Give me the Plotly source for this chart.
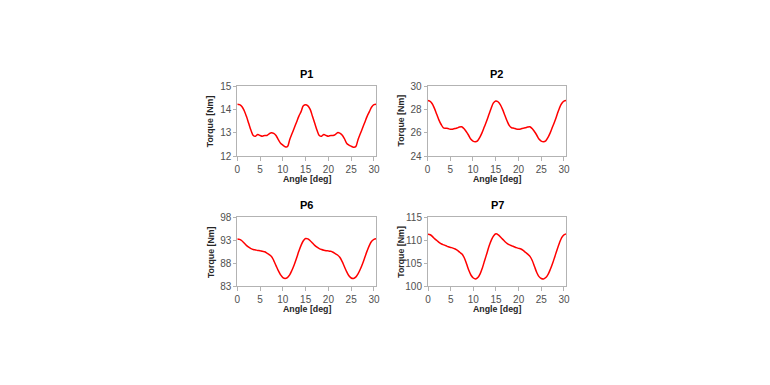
import plotly.graph_objects as go

angle = [i * 0.5 for i in range(62)]

p1 = [14.22, 14.2, 14.12, 13.95, 13.7, 13.4, 13.1, 12.88, 12.85, 12.92, 12.88, 12.85, 12.88, 12.88,
      12.95, 13.0, 12.97, 12.88, 12.7, 12.55, 12.47, 12.4, 12.4, 12.7, 12.95, 13.2, 13.45, 13.7, 13.9,
      14.15, 14.2, 14.15, 14.0, 13.7, 13.4, 13.1, 12.88, 12.85, 12.92, 12.88, 12.85, 12.88, 12.88,
      12.92, 13.0, 12.98, 12.9, 12.75, 12.55, 12.47, 12.42, 12.38, 12.4, 12.7, 12.95, 13.2, 13.45,
      13.7, 13.9, 14.1, 14.2, 14.22]
p2 = [28.75, 28.7, 28.5, 28.1, 27.6, 27.1, 26.7, 26.42, 26.38, 26.35, 26.3, 26.3, 26.35, 26.4,
      26.48, 26.5, 26.35, 26.1, 25.8, 25.45, 25.28, 25.22, 25.3, 25.6, 26.0, 26.5, 27.0, 27.55, 28.1,
      28.55, 28.72, 28.65, 28.4, 28.0, 27.5, 27.0, 26.6, 26.42, 26.38, 26.32, 26.3, 26.32, 26.38,
      26.42, 26.48, 26.5, 26.35, 26.1, 25.8, 25.45, 25.28, 25.22, 25.3, 25.6, 26.0, 26.5, 27.0,
      27.55, 28.1, 28.5, 28.7, 28.75]
p6 = [93.3, 93.2, 92.9, 92.4, 91.9, 91.5, 91.2, 91.0, 90.9, 90.8, 90.75, 90.6, 90.5, 90.2, 89.9,
      89.5, 88.6, 87.5, 86.4, 85.5, 84.9, 84.7, 84.9, 85.5, 86.5, 87.7, 89.1, 90.6, 91.9, 92.9, 93.4,
      93.3, 92.9, 92.4, 91.9, 91.5, 91.2, 91.0, 90.85, 90.75, 90.7, 90.6, 90.4, 90.1, 89.8, 89.3,
      88.4, 87.3, 86.2, 85.3, 84.8, 84.7, 85.0, 85.7, 86.7, 87.9, 89.3, 90.7, 91.9, 92.8, 93.2, 93.35]
p7 = [111.3, 111.2, 110.8, 110.3, 109.9, 109.5, 109.2, 109.0, 108.8, 108.6, 108.45, 108.3, 108.1,
      107.8, 107.4, 107.0, 106.2, 104.9, 103.5, 102.4, 101.8, 101.6, 101.9, 102.7, 104.0, 105.6,
      107.2, 108.8, 110.1, 111.0, 111.4, 111.2, 110.7, 110.2, 109.7, 109.3, 109.0, 108.8, 108.6,
      108.4, 108.25, 108.1, 107.8, 107.4, 107.0, 106.5, 105.6, 104.3, 103.0, 102.1, 101.7, 101.6,
      101.9, 102.6, 103.7, 105.0, 106.5, 108.0, 109.4, 110.6, 111.2, 111.4]

titles = ["P1", "P2", "P6", "P7"]
series = [p1, p2, p6, p7]
y_ranges = [[12, 15], [24, 30], [83, 98], [100, 115]]
y_ticks = [[12, 13, 14, 15], [24, 26, 28, 30], [83, 88, 93, 98], [100, 105, 110, 115]]
x_ticks = [0, 5, 10, 15, 20, 25, 30]

W, H = 770, 385
OFF = 8  # page offset of the figure inside the browser window
# plot-area pixel boxes in window pixels (left, right, top, bottom)
boxes = [(237.3, 376, 86, 156), (427.5, 566, 86, 156),
         (237.3, 376, 217.3, 286.3), (428, 566, 217.3, 286.3)]


def px(xp):
    return (xp - OFF) / W


def py(yp):
    return 1 - (yp - OFF) / H


fig = go.Figure()
font_fam = "Liberation Sans, Arial, sans-serif"
for i, (t, ys) in enumerate(zip(titles, series)):
    n = "" if i == 0 else str(i + 1)
    l, r, tp, bt = boxes[i]
    fig.add_trace(go.Scatter(x=angle, y=ys, mode="lines", line=dict(color="#FF0000", width=1.5, shape="spline"),
                             xaxis="x" + n, yaxis="y" + n, showlegend=False))
    ax = dict(domain=[px(l), px(r)], anchor="y" + n, range=[0, 30.45], tickvals=x_ticks, automargin=False,
              showgrid=False, zeroline=False, showline=True, linecolor="#B3B3B3", linewidth=1, mirror=True,
              ticks="outside", ticklen=4, tickcolor="#B3B3B3",
              tickfont=dict(family=font_fam, size=10, color="#505050"))
    ay = dict(domain=[py(bt), py(tp)], anchor="x" + n, range=y_ranges[i], tickvals=y_ticks[i],
              automargin=False,
              showgrid=False, zeroline=False, showline=True, linecolor="#B3B3B3", linewidth=1, mirror=True,
              ticks="outside", ticklen=3, tickcolor="#B3B3B3",
              tickfont=dict(family=font_fam, size=10, color="#505050"))
    fig.layout["xaxis" + n] = ax
    fig.layout["yaxis" + n] = ay
    cx = (l + r) / 2
    fig.add_annotation(x=px(cx), y=py(tp - 12), xref="paper", yref="paper", text="<b>" + t + "</b>",
                       showarrow=False, font=dict(family=font_fam, size=11, color="black"),
                       xanchor="center", yanchor="middle")
    fig.add_annotation(x=px(cx), y=py(bt + 22.5), xref="paper", yref="paper", text="<b>Angle [deg]</b>",
                       showarrow=False, font=dict(family=font_fam, size=8.8, color="#262626"),
                       xanchor="center", yanchor="middle")
    fig.add_annotation(x=px(l - 27), y=py((tp + bt) / 2), xref="paper", yref="paper",
                       text="<b>Torque [Nm]</b>", textangle=-90,
                       showarrow=False, font=dict(family=font_fam, size=8.8, color="#262626"),
                       xanchor="center", yanchor="middle")

fig.update_layout(width=W, height=H, margin=dict(l=0, r=0, t=0, b=0), template="none",
                  paper_bgcolor="white", plot_bgcolor="white")
fig.write_html("out.html")
